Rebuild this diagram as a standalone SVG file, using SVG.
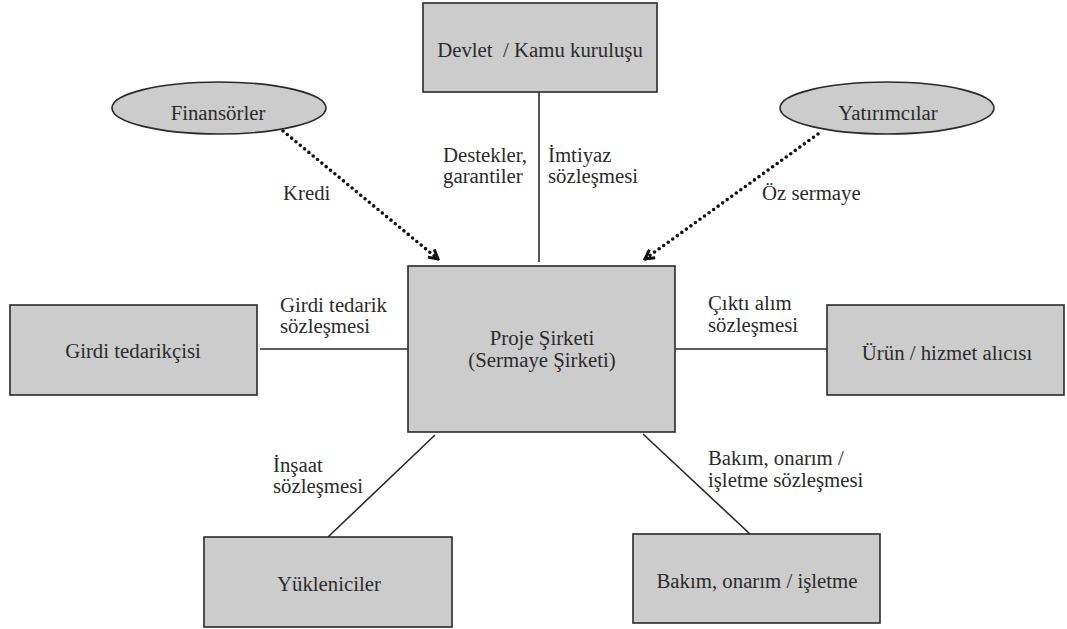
<svg xmlns="http://www.w3.org/2000/svg" width="1067" height="629" viewBox="0 0 1067 629">
<defs>
<style>
.box{fill:#cccccc;stroke:#2a2a2a;stroke-width:1.6}
.t{font-family:"Liberation Serif","Times New Roman",serif;font-size:20.8px;fill:#2b2b2b}
.c{text-anchor:middle}
.ln{stroke:#2a2a2a;stroke-width:1.6;fill:none}
.dot{stroke:#111;stroke-width:3.6;stroke-linecap:round;stroke-dasharray:0 5.6;fill:none}
</style>
<marker id="arr" viewBox="0 0 12 12" refX="10" refY="6" markerWidth="12" markerHeight="12" markerUnits="userSpaceOnUse" orient="auto">
<path d="M1,1 L10,6 L1,11" fill="none" stroke="#111" stroke-width="3" stroke-linejoin="miter"/>
</marker>
</defs>
<rect width="1067" height="629" fill="#ffffff"/>
<g id="connectors">
<line class="ln" x1="539" y1="92" x2="539" y2="262"/>
<line class="ln" x1="260" y1="349" x2="408" y2="349"/>
<line class="ln" x1="675" y1="349" x2="827" y2="349"/>
<line class="ln" x1="435" y1="435" x2="328" y2="537"/>
<line class="ln" x1="643" y1="434" x2="750" y2="534"/>
<path class="dot" d="M283,131 L438,259" marker-end="url(#arr)"/>
<path class="dot" d="M818,134 L645,259" marker-end="url(#arr)"/>
</g>
<g id="labels">
<text class="t" x="283" y="200">Kredi</text>
<text class="t" x="762" y="200">Öz sermaye</text>
<text class="t" x="443" y="162">Destekler,</text>
<text class="t" x="443" y="183">garantiler</text>
<text class="t" x="548" y="162">İmtiyaz</text>
<text class="t" x="548" y="183">sözleşmesi</text>
<text class="t" x="280" y="312">Girdi tedarik</text>
<text class="t" x="280" y="333">sözleşmesi</text>
<text class="t" x="708" y="310">Çıktı alım</text>
<text class="t" x="708" y="332">sözleşmesi</text>
<text class="t" x="273" y="472">İnşaat</text>
<text class="t" x="273" y="493">sözleşmesi</text>
<text class="t" x="708" y="465">Bakım, onarım /</text>
<text class="t" x="708" y="487">işletme sözleşmesi</text>
</g>
<g id="devlet">
<rect class="box" x="423" y="3" width="234" height="89"/>
<text class="t c" x="540" y="57" xml:space="preserve">Devlet  / Kamu kuruluşu</text>
</g>
<g id="finansorler">
<ellipse class="box" cx="219" cy="108" rx="107" ry="26"/>
<text class="t c" x="218" y="120">Finansörler</text>
</g>
<g id="yatirimcilar">
<ellipse class="box" cx="887" cy="108" rx="107" ry="26"/>
<text class="t c" x="888" y="120">Yatırımcılar</text>
</g>
<g id="proje">
<rect class="box" x="408" y="266" width="267" height="166"/>
<text class="t c" x="542" y="345">Proje Şirketi</text>
<text class="t c" x="542" y="367">(Sermaye Şirketi)</text>
</g>
<g id="girdi">
<rect class="box" x="10" y="305" width="247" height="90"/>
<text class="t c" x="133" y="358">Girdi tedarikçisi</text>
</g>
<g id="urun">
<rect class="box" x="827" y="305" width="237" height="90"/>
<text class="t c" x="947" y="360">Ürün / hizmet alıcısı</text>
</g>
<g id="yukleniciler">
<rect class="box" x="204" y="537" width="248" height="90"/>
<text class="t c" x="329" y="591">Yükleniciler</text>
</g>
<g id="bakim">
<rect class="box" x="633" y="534" width="247" height="89"/>
<text class="t c" x="757" y="588">Bakım, onarım / işletme</text>
</g>
</svg>
